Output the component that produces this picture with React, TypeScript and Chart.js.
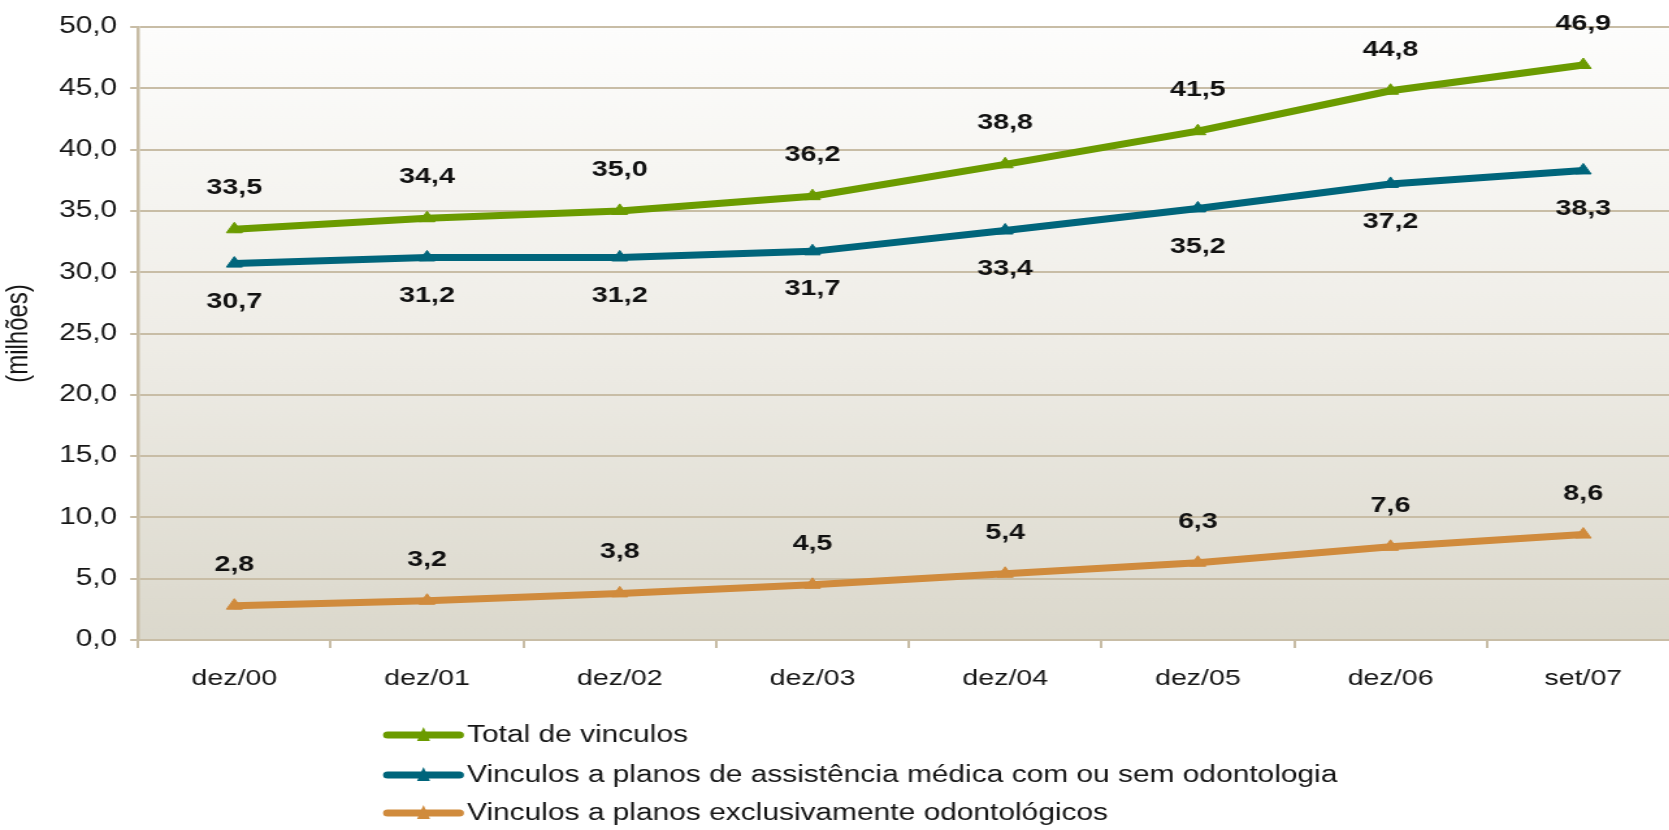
import React, { useEffect, useRef } from 'react';
import { Chart, registerables } from 'chart.js';

Chart.register(...registerables);

const categories = ['dez/00', 'dez/01', 'dez/02', 'dez/03', 'dez/04', 'dez/05', 'dez/06', 'set/07'];
const totalVinculos = [33.5, 34.4, 35.0, 36.2, 38.8, 41.5, 44.8, 46.9];
const medicoVinculos = [30.7, 31.2, 31.2, 31.7, 33.4, 35.2, 37.2, 38.3];
const odontoVinculos = [2.8, 3.2, 3.8, 4.5, 5.4, 6.3, 7.6, 8.6];
const seriesLabels = [
  'Total de vinculos',
  'Vinculos a planos de assistência médica com ou sem odontologia',
  'Vinculos a planos exclusivamente odontológicos',
];
const seriesColors = ['#6b9b00', '#00657b', '#d08b3d'];
const labelSides = ['above', 'below', 'above'];
const yMin = 0;
const yMax = 50;
const yStep = 5;
const yTitle = '(milhões)';

// horizontal stretch of the reference picture
const SX = 1.3;
const W = 1300;
const H = 830;
const GRID = '#c8bda6';
const FONT = "'Liberation Sans', Arial, sans-serif";

const fmt = (v: number) => v.toFixed(1).replace('.', ',');

const bgPlugin = {
  id: 'bgGradient',
  beforeDraw(chart: any) {
    const { ctx, chartArea } = chart;
    if (!chartArea) return;
    const g = ctx.createLinearGradient(0, chartArea.top, 0, chartArea.bottom);
    g.addColorStop(0, '#fdfdfc');
    g.addColorStop(0.5, '#efede7');
    g.addColorStop(1, '#dbd8cc');
    ctx.save();
    ctx.fillStyle = g;
    ctx.fillRect(chartArea.left, chartArea.top, chartArea.right - chartArea.left, chartArea.bottom - chartArea.top);
    ctx.restore();
  },
};

const valueLabelPlugin = {
  id: 'valueLabels',
  afterDatasetsDraw(chart: any) {
    const { ctx } = chart;
    ctx.save();
    ctx.font = `bold 22px ${FONT}`;
    ctx.fillStyle = '#111111';
    ctx.textAlign = 'center';
    ctx.textBaseline = 'middle';
    chart.data.datasets.forEach((ds: any, i: number) => {
      const meta = chart.getDatasetMeta(i);
      meta.data.forEach((pt: any, j: number) => {
        const off = labelSides[i] === 'below' ? 38 : -41;
        ctx.fillText(fmt(ds.data[j]), pt.x, pt.y + off);
      });
    });
    ctx.restore();
  },
};

const legendPlugin = {
  id: 'customLegend',
  afterDraw(chart: any) {
    const { ctx } = chart;
    const x0 = 385 / SX;
    const x1 = 462 / SX;
    const tx = 467 / SX;
    const rows = [735, 775, 813];
    ctx.save();
    seriesLabels.forEach((lbl, i) => {
      const y = rows[i];
      ctx.strokeStyle = seriesColors[i];
      ctx.lineWidth = 7;
      ctx.lineCap = 'round';
      ctx.beginPath();
      ctx.moveTo(x0 + 2, y);
      ctx.lineTo(x1 - 2, y);
      ctx.stroke();
      // triangle marker
      const mx = (x0 + x1) / 2;
      ctx.fillStyle = seriesColors[i];
      ctx.beginPath();
      ctx.moveTo(mx, y - 8);
      ctx.lineTo(mx + 5, y + 6);
      ctx.lineTo(mx - 5, y + 6);
      ctx.closePath();
      ctx.fill();
      ctx.font = `23px ${FONT}`;
      ctx.fillStyle = '#151515';
      ctx.textAlign = 'left';
      ctx.textBaseline = 'middle';
      ctx.fillText(lbl, tx, y + 1);
    });
    ctx.restore();
  },
};

export default function App() {
  const ref = useRef<HTMLCanvasElement | null>(null);

  useEffect(() => {
    if (!ref.current) return;
    const mk = (label: string, data: number[], color: string) => ({
      label,
      data,
      borderColor: color,
      backgroundColor: color,
      borderWidth: 7,
      pointStyle: 'triangle',
      pointRadius: 7,
      pointBorderWidth: 1,
      pointBackgroundColor: color,
      pointBorderColor: color,
      tension: 0,
      fill: false,
    });
    const chart = new Chart(ref.current, {
      type: 'line',
      data: {
        labels: categories,
        datasets: [
          mk(seriesLabels[0], totalVinculos, seriesColors[0]),
          mk(seriesLabels[1], medicoVinculos, seriesColors[1]),
          mk(seriesLabels[2], odontoVinculos, seriesColors[2]),
        ],
      },
      options: {
        responsive: false,
        animation: false,
        devicePixelRatio: 1,
        events: [],
        layout: { padding: { left: 0, right: W - 1682 / SX, top: 27, bottom: 120 } },
        plugins: { legend: { display: false }, tooltip: { enabled: false } },
        scales: {
          x: {
            type: 'category',
            offset: true,
            grid: {
              display: true,
              offset: true,
              drawOnChartArea: false,
              drawTicks: true,
              tickLength: 8,
              color: GRID,
              lineWidth: 2,
            },
            border: { display: true, color: GRID, width: 2 },
            ticks: {
              color: '#151515',
              font: { family: FONT, size: 22 },
              padding: 18,
              maxRotation: 0,
              autoSkip: false,
            },
            afterFit: (scale: any) => {
              scale.height = 70;
            },
          },
          y: {
            min: yMin,
            max: yMax,
            grid: {
              color: GRID,
              lineWidth: 2,
              drawTicks: true,
              tickLength: 6,
            },
            border: { display: true, color: GRID, width: 2.5 },
            ticks: {
              stepSize: yStep,
              color: '#151515',
              font: { family: FONT, size: 23 },
              padding: 10,
              callback: (v: any) => fmt(Number(v)),
            },
            title: {
              display: true,
              text: yTitle,
              color: '#151515',
              font: { family: FONT, size: 24 },
              padding: { top: 0, bottom: 0 },
            },
            afterFit: (scale: any) => {
              scale.width = 138 / SX;
            },
          },
        },
      },
      plugins: [bgPlugin, valueLabelPlugin, legendPlugin],
    } as any);
    return () => chart.destroy();
  }, []);

  return (
    <div style={{ position: 'fixed', left: 0, top: 0, width: 1669, height: 830, overflow: 'hidden', background: '#ffffff' }}>
      <canvas
        ref={ref}
        width={W}
        height={H}
        style={{ width: `${W * SX}px`, height: `${H}px`, display: 'block' }}
      />
    </div>
  );
}
